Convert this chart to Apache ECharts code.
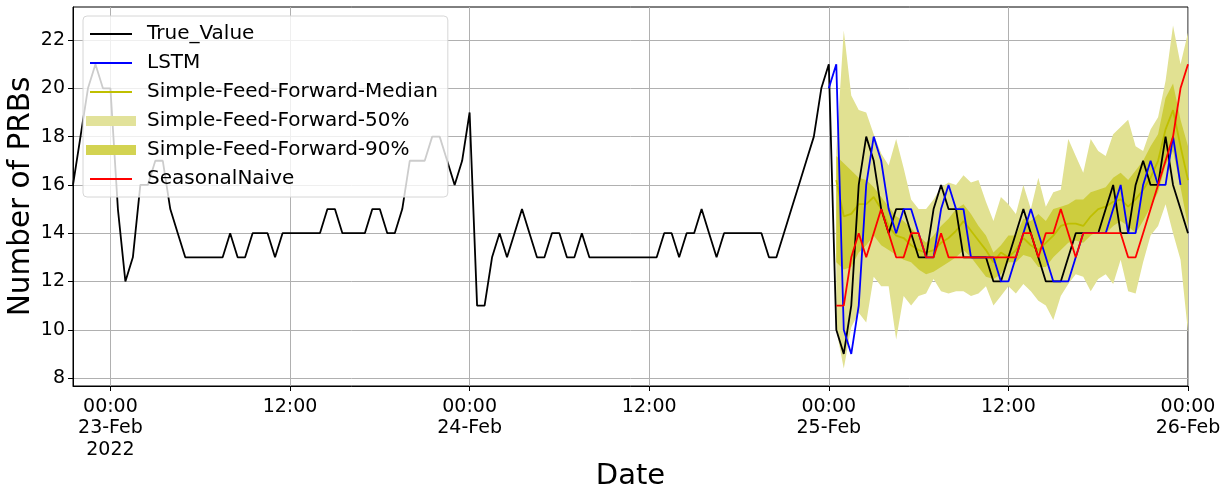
<!DOCTYPE html>
<html>
<head>
<meta charset="utf-8">
<title>Number of PRBs</title>
<script src="https://cdn.jsdelivr.net/npm/echarts@6/dist/echarts.min.js"></script>
<style>
  html, body { margin: 0; padding: 0; background: #fff; }
  #chart { width: 1230px; height: 497px; }
</style>
</head>
<body>
<div id="chart"></div>
<script>
// half-hourly samples, 22-Feb 21:30 .. 26-Feb 00:00
var startTime = Date.UTC(2022, 1, 22, 21, 30)
var stepMinutes = 30

var trueValues = [
  16, 18, 20, 21, 20,
  // 23-Feb
  20, 15, 12, 13, 16, 16, 17, 17, 15, 14, 13, 13,
  13, 13, 13, 13, 14, 13, 13, 14, 14, 14, 13, 14,
  14, 14, 14, 14, 14, 15, 15, 14, 14, 14, 14, 15,
  15, 14, 14, 15, 17, 17, 17, 18, 18, 17, 16, 17,
  // 24-Feb
  19, 11, 11, 13, 14, 13, 14, 15, 14, 13, 13, 14,
  14, 13, 13, 14, 13, 13, 13, 13, 13, 13, 13, 13,
  13, 13, 14, 14, 13, 14, 14, 15, 14, 13, 14, 14,
  14, 14, 14, 14, 13, 13, 14, 15, 16, 17, 18, 20,
  // 25-Feb
  21, 10, 9, 11, 16, 18, 17, 15, 14, 15, 15, 14,
  13, 13, 15, 16, 15, 15, 13, 13, 13, 13, 12, 12,
  13, 14, 15, 14, 13, 12, 12, 12, 13, 14, 14, 14,
  14, 15, 16, 14, 14, 16, 17, 16, 16, 18, 16, 15,
  // 26-Feb
  14
]

// LSTM starts 25-Feb 00:00
var lstmStart = '2022-02-25 00:00'
var lstmValues = [
  20, 21, 10, 9, 11, 16, 18, 17, 15, 14, 15, 15,
  14, 13, 13, 15, 16, 15, 15, 13, 13, 13, 13, 12,
  12, 13, 14, 15, 14, 13, 12, 12, 12, 13, 14, 14,
  14, 14, 15, 16, 14, 14, 16, 17, 16, 16, 18, 16
]

// forecasts start 25-Feb 00:30
var forecastStart = '2022-02-25 00:30'
var naiveValues = [
  11, 11, 13, 14, 13, 14, 15, 14, 13, 13, 14, 14,
  13, 13, 14, 13, 13, 13, 13, 13, 13, 13, 13, 13,
  13, 14, 14, 13, 14, 14, 15, 14, 13, 14, 14, 14,
  14, 14, 14, 13, 13, 14, 15, 16, 17, 18, 20, 21
]
var sffMedian = [
  16.2, 14.7, 14.8, 15.2, 15.2, 15.5, 15.0, 14.3, 13.9, 13.8, 13.5, 13.3,
  13.2, 13.3, 13.6, 13.8, 14.1, 14.5, 14.1, 13.7, 13.3, 12.8, 13.2, 13.0,
  13.3, 13.8, 13.5, 13.3, 13.6, 13.9, 14.3, 14.4, 14.4, 14.3, 14.7, 15.0,
  15.1, 15.3, 15.4, 15.1, 15.4, 15.8, 16.3, 17.0, 18.3, 19.1, 17.6, 16.2
]
var sffOuterHigh = [
  17.4, 22.4, 19.7, 19.1, 19.0, 18.1, 17.3, 16.8, 17.9, 16.7, 15.4, 15.0,
  15.0, 15.4, 15.9, 16.1, 16.0, 16.4, 16.1, 16.2, 15.3, 14.5, 15.5, 15.2,
  14.8, 16.0, 15.0, 16.3, 15.1, 15.7, 15.8, 17.9, 17.2, 16.5, 17.9, 17.4,
  17.2, 18.1, 18.4, 18.7, 17.6, 17.4, 18.3, 18.8, 20.3, 22.6, 21.0, 22.3
]
var sffOuterLow = [
  10.0, 8.4, 10.1, 10.7, 10.3, 12.2, 11.8, 11.8, 9.6, 11.4, 11.0, 11.4,
  11.5, 12.1, 11.6, 11.5, 11.6, 11.6, 11.4, 11.5, 11.8, 11.0, 11.4, 11.8,
  11.5, 11.9, 11.6, 11.2, 11.0, 10.4, 11.4, 11.9, 12.3, 12.2, 11.6, 12.1,
  12.3, 11.9, 12.9, 11.6, 11.5, 12.8, 13.9, 14.3, 15.2, 14.0, 12.9, 9.9
]
var sffInnerHigh = [
  17.2, 16.9, 16.6, 16.3, 16.2, 15.9, 15.5, 15.1, 14.7, 14.5, 14.2, 13.9,
  13.6, 13.9, 14.3, 14.6, 15.0, 15.2, 14.8, 14.3, 13.9, 13.2, 13.5, 13.9,
  13.9, 14.6, 14.5, 14.8, 14.5, 15.0, 15.1, 15.2, 15.4, 15.4, 15.7, 15.8,
  15.9, 16.3, 16.5, 16.2, 16.6, 17.0, 17.6, 18.1, 19.6, 20.2, 18.7, 17.6
]
var sffInnerLow = [
  12.8, 12.5, 12.6, 13.2, 13.5, 13.9, 13.5, 13.3, 13.1, 12.9, 12.8, 12.5,
  12.3, 12.4, 12.6, 12.8, 13.0, 13.3, 13.0, 12.6, 12.2, 12.1, 12.3, 12.8,
  12.8, 13.1, 13.0, 12.6, 12.6, 13.0, 13.3, 13.6, 13.7, 13.6, 13.9, 14.1,
  14.0, 14.3, 14.5, 14.3, 14.0, 14.5, 15.1, 15.7, 16.8, 17.4, 15.9, 14.3
]

var tickCategories = [
  '2022-02-23 00:00', '2022-02-23 12:00', '2022-02-24 00:00', '2022-02-24 12:00',
  '2022-02-25 00:00', '2022-02-25 12:00', '2022-02-26 00:00'
]
var tickLabels = ['00:00\n23-Feb\n2022', '12:00', '00:00\n24-Feb', '12:00', '00:00\n25-Feb', '12:00', '00:00\n26-Feb']
var yTicks = [8, 10, 12, 14, 16, 18, 20, 22]

function two (n) { return (n < 10 ? '0' : '') + n }
var categories = trueValues.map(function (v, i) {
  var d = new Date(startTime + i * stepMinutes * 60000)
  return d.getUTCFullYear() + '-' + two(d.getUTCMonth() + 1) + '-' + two(d.getUTCDate()) +
    ' ' + two(d.getUTCHours()) + ':' + two(d.getUTCMinutes())
})

// put a series on the category axis starting at a given time
function placeAt (start, values) {
  var out = categories.map(function () { return null })
  var offset = categories.indexOf(start)
  values.forEach(function (v, i) { out[offset + i] = v })
  return out
}
function diff (hi, lo) {
  return hi.map(function (v, i) { return +(v - lo[i]).toFixed(2) })
}

var isTick = function (index, value) { return tickCategories.indexOf(value) >= 0 }
var font = 'DejaVu Sans'
var lightBand = '#e1e192'
var darkBand = '#cdcd3e'
// short line handle inside a 50x10 legend box (tiny corner specks fix the box)
var lineIcon = 'path://M4,4H46V6H4Z M0,0H0.01V0.01H0Z M49.99,9.99H50V10H49.99Z'

var chart = echarts.init(document.getElementById('chart'))
chart.setOption({
  animation: false,
  textStyle: { fontFamily: font },
  grid: {
    left: 73, right: 42, top: 7, bottom: 111,
    outerBoundsMode: 'none',
    show: true, borderColor: '#000', borderWidth: 1
  },
  legend: {
    orient: 'vertical',
    left: 83, top: 16,
    padding: [8, 10, 8, 3],
    itemWidth: 50, itemHeight: 10, itemGap: 9,
    symbolKeepAspect: true,
    selectedMode: false,
    backgroundColor: 'rgba(255,255,255,0.8)',
    borderColor: '#d6d6d6', borderWidth: 1, borderRadius: 4,
    textStyle: { fontFamily: font, fontSize: 20, color: '#000', lineHeight: 20, padding: [0, 0, 0, 6] },
    data: [
      { name: 'True_Value', icon: lineIcon },
      { name: 'LSTM', icon: lineIcon },
      { name: 'Simple-Feed-Forward-Median', icon: lineIcon },
      { name: 'Simple-Feed-Forward-50%', icon: 'rect', itemStyle: { color: '#e2e29a' } },
      { name: 'Simple-Feed-Forward-90%', icon: 'rect', itemStyle: { color: '#d3d352' } },
      { name: 'SeasonalNaive', icon: lineIcon }
    ]
  },
  xAxis: {
    type: 'category',
    data: categories,
    boundaryGap: false,
    name: 'Date',
    nameLocation: 'middle',
    nameGap: 76,
    nameMoveOverlap: false,
    nameTextStyle: { fontFamily: font, fontSize: 29, color: '#000' },
    axisLine: { lineStyle: { color: '#000', width: 1 } },
    axisTick: { interval: isTick, length: 5, lineStyle: { color: '#000' } },
    axisLabel: {
      interval: isTick,
      formatter: function (value) { return tickLabels[tickCategories.indexOf(value)] },
      fontFamily: font, fontSize: 19, lineHeight: 21.5, color: '#000', margin: 10,
      hideOverlap: false
    },
    splitLine: { show: true, interval: isTick, lineStyle: { color: '#b0b0b0', width: 1 } }
  },
  yAxis: {
    type: 'value',
    min: 7.67, max: 23.37,
    name: 'Number of PRBs',
    nameLocation: 'middle',
    nameGap: 37,
    nameMoveOverlap: false,
    nameTextStyle: { fontFamily: font, fontSize: 29.5, color: '#000' },
    axisLine: { show: true, lineStyle: { color: '#000', width: 1 } },
    axisTick: { show: true, length: 5, customValues: yTicks, lineStyle: { color: '#000' } },
    axisLabel: { customValues: yTicks, fontFamily: font, fontSize: 19, color: '#000', margin: 8 },
    splitLine: { show: true, lineStyle: { color: '#b0b0b0', width: 1 } }
  },
  series: [
    {
      name: 'outerLow', type: 'line', stack: 'outer', symbol: 'none',
      data: placeAt(forecastStart, sffOuterLow),
      lineStyle: { opacity: 0 }, silent: true
    },
    {
      name: 'Simple-Feed-Forward-50%', type: 'line', stack: 'outer', symbol: 'none',
      data: placeAt(forecastStart, diff(sffOuterHigh, sffOuterLow)),
      itemStyle: { color: lightBand },
      lineStyle: { width: 0, opacity: 0 },
      areaStyle: { color: lightBand, opacity: 1 }
    },
    {
      name: 'innerLow', type: 'line', stack: 'inner', symbol: 'none',
      data: placeAt(forecastStart, sffInnerLow),
      lineStyle: { opacity: 0 }, silent: true
    },
    {
      name: 'Simple-Feed-Forward-90%', type: 'line', stack: 'inner', symbol: 'none',
      data: placeAt(forecastStart, diff(sffInnerHigh, sffInnerLow)),
      itemStyle: { color: darkBand },
      lineStyle: { width: 0, opacity: 0 },
      areaStyle: { color: darkBand, opacity: 1 }
    },
    {
      name: 'Simple-Feed-Forward-Median', type: 'line', symbol: 'none',
      data: placeAt(forecastStart, sffMedian),
      itemStyle: { color: '#bfbf00' },
      lineStyle: { color: '#bfbf00', width: 1.8 }
    },
    {
      name: 'True_Value', type: 'line', symbol: 'none',
      data: trueValues,
      itemStyle: { color: '#000' },
      lineStyle: { color: '#000', width: 1.8 }
    },
    {
      name: 'LSTM', type: 'line', symbol: 'none',
      data: placeAt(lstmStart, lstmValues),
      itemStyle: { color: '#0000ff' },
      lineStyle: { color: '#0000ff', width: 1.8 }
    },
    {
      name: 'SeasonalNaive', type: 'line', symbol: 'none',
      data: placeAt(forecastStart, naiveValues),
      itemStyle: { color: '#ff0000' },
      lineStyle: { color: '#ff0000', width: 1.8 }
    }
  ]
})
</script>
</body>
</html>
